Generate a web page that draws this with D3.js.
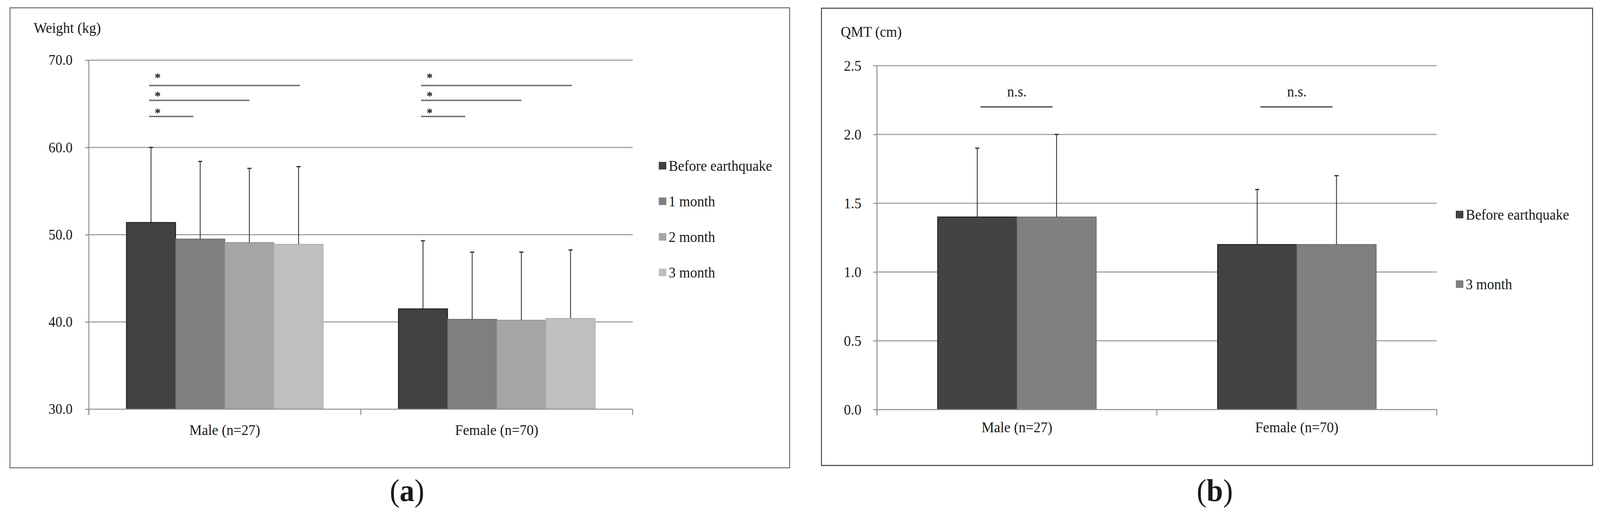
<!DOCTYPE html>
<html>
<head>
<meta charset="utf-8">
<script src="https://cdn.jsdelivr.net/npm/d3@7"></script>
<style>
  html, body { margin: 0; padding: 0; background: #ffffff; overflow: hidden; width: 100vw; height: 100vh; }
  svg { display: block; width: 100vw; height: 100vh; }
  text { font-family: "Liberation Serif", "Times New Roman", serif; fill: #1a1a1a; }
</style>
</head>
<body>
<svg id="chart" viewBox="0 0 4324 1328" preserveAspectRatio="none"></svg>
<script>
// ---------- data ----------
const groups = ["Male (n=27)", "Female (n=70)"];

// panel (a) weight
const weightSeries = ["Before earthquake", "1 month", "2 month", "3 month"];
const weightMale = [51.4, 49.5, 49.1, 48.9];
const weightFemale = [41.5, 40.3, 40.2, 40.4];
const weightSDMale = [8.6, 8.9, 8.5, 8.9];
const weightSDFemale = [7.8, 7.7, 7.8, 7.85];
const weightTicks = [30, 40, 50, 60, 70];
const weightTitle = "Weight (kg)";
// significance brackets: from/to in bar index units, line level and star level in kg
const weightSigFrom = [-0.04, -0.04, -0.04];
const weightSigTo = [3.03, 2.0, 0.86];
const weightSigLevel = [67.1, 65.4, 63.55];
const weightStarLevel = [68.15, 66.05, 64.15];
const weightSigLabel = ["*", "*", "*"];

// panel (b) QMT
const qmtSeries = ["Before earthquake", "3 month"];
const qmtMale = [1.4, 1.4];
const qmtFemale = [1.2, 1.2];
const qmtSDMale = [0.5, 0.6];
const qmtSDFemale = [0.4, 0.5];
const qmtTicks = [0.0, 0.5, 1.0, 1.5, 2.0, 2.5];
const qmtTitle = "QMT (cm)";
const qmtSigFrom = 0.04;
const qmtSigTo = 0.95;
const qmtSigLevel = 2.2;
const qmtLabelLevel = 2.3;
const qmtSigLabel = "n.s.";

const panelLabels = ["a", "b"];

// ---------- styles ----------
const fillsA = ["#424242", "#7f7f7f", "#a5a5a5", "#bfbfbf"];
const strokesA = ["#111111", "#6a6a6a", "#939393", "#adadad"];
const fillsB = ["#434343", "#808080"];
const strokesB = ["#111111", "#6a6a6a"];
const gridColor = "#a3a3a3";
const axisColor = "#8c8c8c";

const svg = d3.select("#chart");
svg.append("rect").attr("width", 4324).attr("height", 1328).attr("fill", "#fff");

function drawPanel(cfg) {
  const g = svg.append("g");
  // border
  g.append("rect")
    .attr("x", cfg.box[0]).attr("y", cfg.box[1])
    .attr("width", cfg.box[2] - cfg.box[0]).attr("height", cfg.box[3] - cfg.box[1])
    .attr("fill", "none").attr("stroke", cfg.borderColor).attr("stroke-width", 2.5);

  const y = d3.scaleLinear().domain(cfg.domain).range([cfg.bottom, cfg.top]);
  const x0 = d3.scaleBand().domain(groups).range([cfg.left, cfg.right]).paddingInner(0).paddingOuter(0);
  const x1 = d3.scaleBand().domain(cfg.series).range([0, x0.bandwidth()]).paddingInner(0).paddingOuter(0.765);
  const step = x1.step();

  // gridlines
  g.append("g").selectAll("line").data(cfg.ticks.slice(1)).join("line")
    .attr("x1", cfg.left).attr("x2", cfg.right)
    .attr("y1", d => y(d)).attr("y2", d => y(d))
    .attr("stroke", gridColor).attr("stroke-width", 3);

  // y axis
  const yAxis = d3.axisLeft(y).tickValues(cfg.ticks).tickFormat(d3.format(".1f"))
    .tickSize(10).tickPadding(cfg.tickPad);
  const ya = g.append("g").attr("transform", `translate(${cfg.left},0)`).call(yAxis);
  ya.select(".domain").remove();
  ya.selectAll(".tick line").attr("stroke", axisColor).attr("stroke-width", 2.5);
  ya.selectAll(".tick text").attr("font-size", cfg.tickFont).attr("fill", "#1a1a1a")
    .attr("font-family", "Liberation Serif");
  g.append("line").attr("x1", cfg.left).attr("x2", cfg.left)
    .attr("y1", cfg.top).attr("y2", cfg.bottom + 15)
    .attr("stroke", axisColor).attr("stroke-width", 2.5);

  // bars
  const data = [];
  groups.forEach((grp, gi) => {
    cfg.series.forEach((s, si) => {
      data.push({ grp, gi, s, si, v: cfg.values[gi][si], sd: cfg.sds[gi][si] });
    });
  });
  g.append("g").selectAll("rect").data(data).join("rect")
    .attr("x", d => x0(d.grp) + x1(d.s))
    .attr("y", d => y(d.v))
    .attr("width", x1.bandwidth())
    .attr("height", d => y(cfg.domain[0]) - y(d.v))
    .attr("fill", d => cfg.fills[d.si])
    .attr("stroke", d => cfg.strokes[d.si]).attr("stroke-width", 2);

  // error bars (upper only)
  const eb = g.append("g").attr("stroke", "#2a2a2a").attr("stroke-width", 2.2);
  data.forEach(d => {
    const cx = x0(d.grp) + x1(d.s) + x1.bandwidth() / 2;
    eb.append("line").attr("x1", cx).attr("x2", cx).attr("y1", y(d.v)).attr("y2", y(d.v + d.sd));
    eb.append("line").attr("x1", cx - 5.5).attr("x2", cx + 5.5).attr("y1", y(d.v + d.sd)).attr("y2", y(d.v + d.sd))
      .attr("stroke-width", 3);
  });

  // x axis
  g.append("line").attr("x1", cfg.left).attr("x2", cfg.right)
    .attr("y1", cfg.bottom).attr("y2", cfg.bottom)
    .attr("stroke", axisColor).attr("stroke-width", 2.5);
  const bounds = [x0(groups[0]), x0(groups[1]), x0(groups[1]) + x0.bandwidth()];
  g.append("g").selectAll("line").data(bounds).join("line")
    .attr("x1", d => d).attr("x2", d => d)
    .attr("y1", cfg.bottom).attr("y2", cfg.bottom + 15)
    .attr("stroke", axisColor).attr("stroke-width", 2.5);
  g.append("g").selectAll("text").data(groups).join("text")
    .attr("x", d => x0(d) + x0.bandwidth() / 2)
    .attr("y", cfg.xLabelY)
    .attr("text-anchor", "middle")
    .attr("font-size", cfg.labelFont)
    .text(d => d);

  // title
  g.append("text").attr("x", cfg.titleX).attr("y", cfg.titleY)
    .attr("font-size", cfg.labelFont).text(cfg.title);

  // legend
  const lg = g.append("g");
  cfg.series.forEach((s, i) => {
    const cy = cfg.legendY[i];
    lg.append("rect").attr("x", cfg.legendX).attr("y", cy - 9).attr("width", 19).attr("height", 18)
      .attr("fill", cfg.fills[i]).attr("stroke", cfg.strokes[i]).attr("stroke-width", 1);
    lg.append("text").attr("x", cfg.legendX + 26).attr("y", cy + 13)
      .attr("font-size", 38).text(s);
  });

  // panel label
  const pl = svg.append("text").attr("x", cfg.panelLabelX).attr("y", 1282)
    .attr("text-anchor", "middle").attr("font-size", 80);
  pl.append("tspan").text("(");
  pl.append("tspan").attr("font-weight", "bold").text(cfg.panelLabel);
  pl.append("tspan").text(")");

  return { g, x0, x1, y, step };
}

// ----- panel (a) -----
const A = drawPanel({
  box: [27, 20, 2134, 1197],
  left: 240, right: 1710, top: 154, bottom: 1047,
  domain: [30, 70], ticks: weightTicks, tickPad: 34, tickFont: 37,
  series: weightSeries, values: [weightMale, weightFemale], sds: [weightSDMale, weightSDFemale],
  fills: fillsA, strokes: strokesA, borderColor: "#6a6a6a",
  xLabelY: 1113, labelFont: 38,
  title: weightTitle, titleX: 91, titleY: 84,
  legendX: 1781, legendY: [424, 515, 606, 697],
  panelLabelX: 1100, panelLabel: panelLabels[0]
});
groups.forEach(grp => {
  const c0 = A.x0(grp) + A.x1(weightSeries[0]) + A.x1.bandwidth() / 2;
  weightSigLevel.forEach((lv, i) => {
    A.g.append("line")
      .attr("x1", c0 + weightSigFrom[i] * A.step).attr("x2", c0 + weightSigTo[i] * A.step)
      .attr("y1", A.y(lv)).attr("y2", A.y(lv))
      .attr("stroke", "#6e6e6e").attr("stroke-width", 3.5);
    A.g.append("text").attr("x", c0 + 18).attr("y", A.y(weightStarLevel[i]) + 14)
      .attr("text-anchor", "middle").attr("font-size", 32).attr("font-weight", "bold")
      .text(weightSigLabel[i]);
  });
});

// ----- panel (b) -----
const B = drawPanel({
  box: [2220, 21, 4304, 1191],
  left: 2370, right: 3883, top: 168, bottom: 1048,
  domain: [0, 2.5], ticks: qmtTicks, tickPad: 32, tickFont: 38,
  series: qmtSeries, values: [qmtMale, qmtFemale], sds: [qmtSDMale, qmtSDFemale],
  fills: fillsB, strokes: strokesB, borderColor: "#3a3a3a",
  xLabelY: 1106, labelFont: 38,
  title: qmtTitle, titleX: 2272, titleY: 94,
  legendX: 3935, legendY: [549, 727],
  panelLabelX: 3283, panelLabel: panelLabels[1]
});
groups.forEach(grp => {
  const c0 = B.x0(grp) + B.x1(qmtSeries[0]) + B.x1.bandwidth() / 2;
  B.g.append("line")
    .attr("x1", c0 + qmtSigFrom * B.step).attr("x2", c0 + qmtSigTo * B.step)
    .attr("y1", B.y(qmtSigLevel)).attr("y2", B.y(qmtSigLevel))
    .attr("stroke", "#555").attr("stroke-width", 3.5);
  B.g.append("text").attr("x", B.x0(grp) + B.x0.bandwidth() / 2).attr("y", B.y(qmtLabelLevel) + 9)
    .attr("text-anchor", "middle").attr("font-size", 38).text(qmtSigLabel);
});
</script>
</body>
</html>
